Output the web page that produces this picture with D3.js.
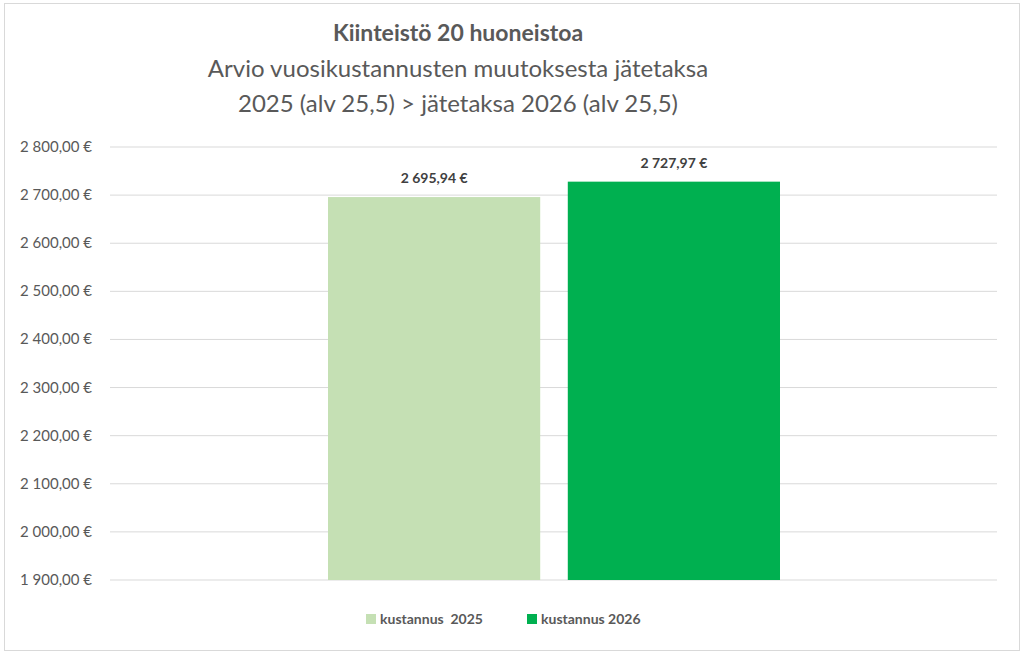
<!DOCTYPE html>
<html><head><meta charset="utf-8">
<script src="https://cdn.jsdelivr.net/npm/d3@7"></script>
<style>body{margin:0;background:#fff;font-family:Lato,"Open Sans",sans-serif;}</style>
</head><body><svg id="c" width="1024" height="655"></svg>
<script>
const series = ["kustannus  2025", "kustannus 2026"];
const values = [2695.94, 2727.97];
const labels = ["2 695,94 €", "2 727,97 €"];
const colors = ["#c5e0b4", "#00b050"];
const ticks = [1900,2000,2100,2200,2300,2400,2500,2600,2700,2800];
const titleLines = ["Kiinteistö 20 huoneistoa","Arvio vuosikustannusten muutoksesta jätetaksa","2025 (alv 25,5) > jätetaksa 2026 (alv 25,5)"];

const svg = d3.select("#c");
svg.append("rect").attr("x",4.5).attr("y",3.5).attr("width",1015).attr("height",647).attr("fill","#fff").attr("stroke","#d9d9d9");
const y = d3.scaleLinear().domain([1900,2800]).range([580,147]);
const x = d3.scaleBand().domain(series).range([328,780]).paddingInner(0.115);
const fmt = v => { const s = d3.format(",.2f")(v); return s.replace(",", " ").replace(".", ",") + " €"; };
svg.append("g").selectAll("line").data(ticks).join("line")
  .attr("x1",110).attr("x2",997).attr("y1",d=>y(d)).attr("y2",d=>y(d)).attr("stroke","#d9d9d9");
svg.append("g").selectAll("text").data(ticks).join("text")
  .attr("x",92).attr("y",d=>y(d)+5).attr("text-anchor","end").attr("font-size",15).attr("fill","#595959").text(fmt);
svg.append("g").selectAll("rect").data(values).join("rect")
  .attr("x",(d,i)=>x(series[i])).attr("width",x.bandwidth()).attr("y",d=>y(d)).attr("height",d=>580-y(d)).attr("fill",(d,i)=>colors[i]);
svg.append("g").selectAll("text").data(values).join("text")
  .attr("x",(d,i)=>x(series[i])+x.bandwidth()/2).attr("y",d=>y(d)-14).attr("text-anchor","middle")
  .attr("font-size",14).attr("font-weight","bold").attr("fill","#404040").text((d,i)=>labels[i]);
const tl = svg.append("g").attr("fill","#595959").attr("text-anchor","middle");
tl.append("text").attr("x",458).attr("y",41).attr("font-size",23).attr("font-weight","bold").text(titleLines[0]);
tl.append("text").attr("x",458).attr("y",77).attr("font-size",24).text(titleLines[1]);
tl.append("text").attr("x",458).attr("y",112).attr("font-size",24).text(titleLines[2]);
const lx = [366, 527];
const lg = svg.append("g");
series.forEach((s,i)=>{
  lg.append("rect").attr("x",lx[i]).attr("y",614).attr("width",10).attr("height",10).attr("fill",colors[i]);
  lg.append("text").attr("x",lx[i]+14).attr("y",624).attr("font-size",14).attr("font-weight","bold").attr("fill","#595959").attr("xml:space","preserve").text(s);
});
</script></body></html>
